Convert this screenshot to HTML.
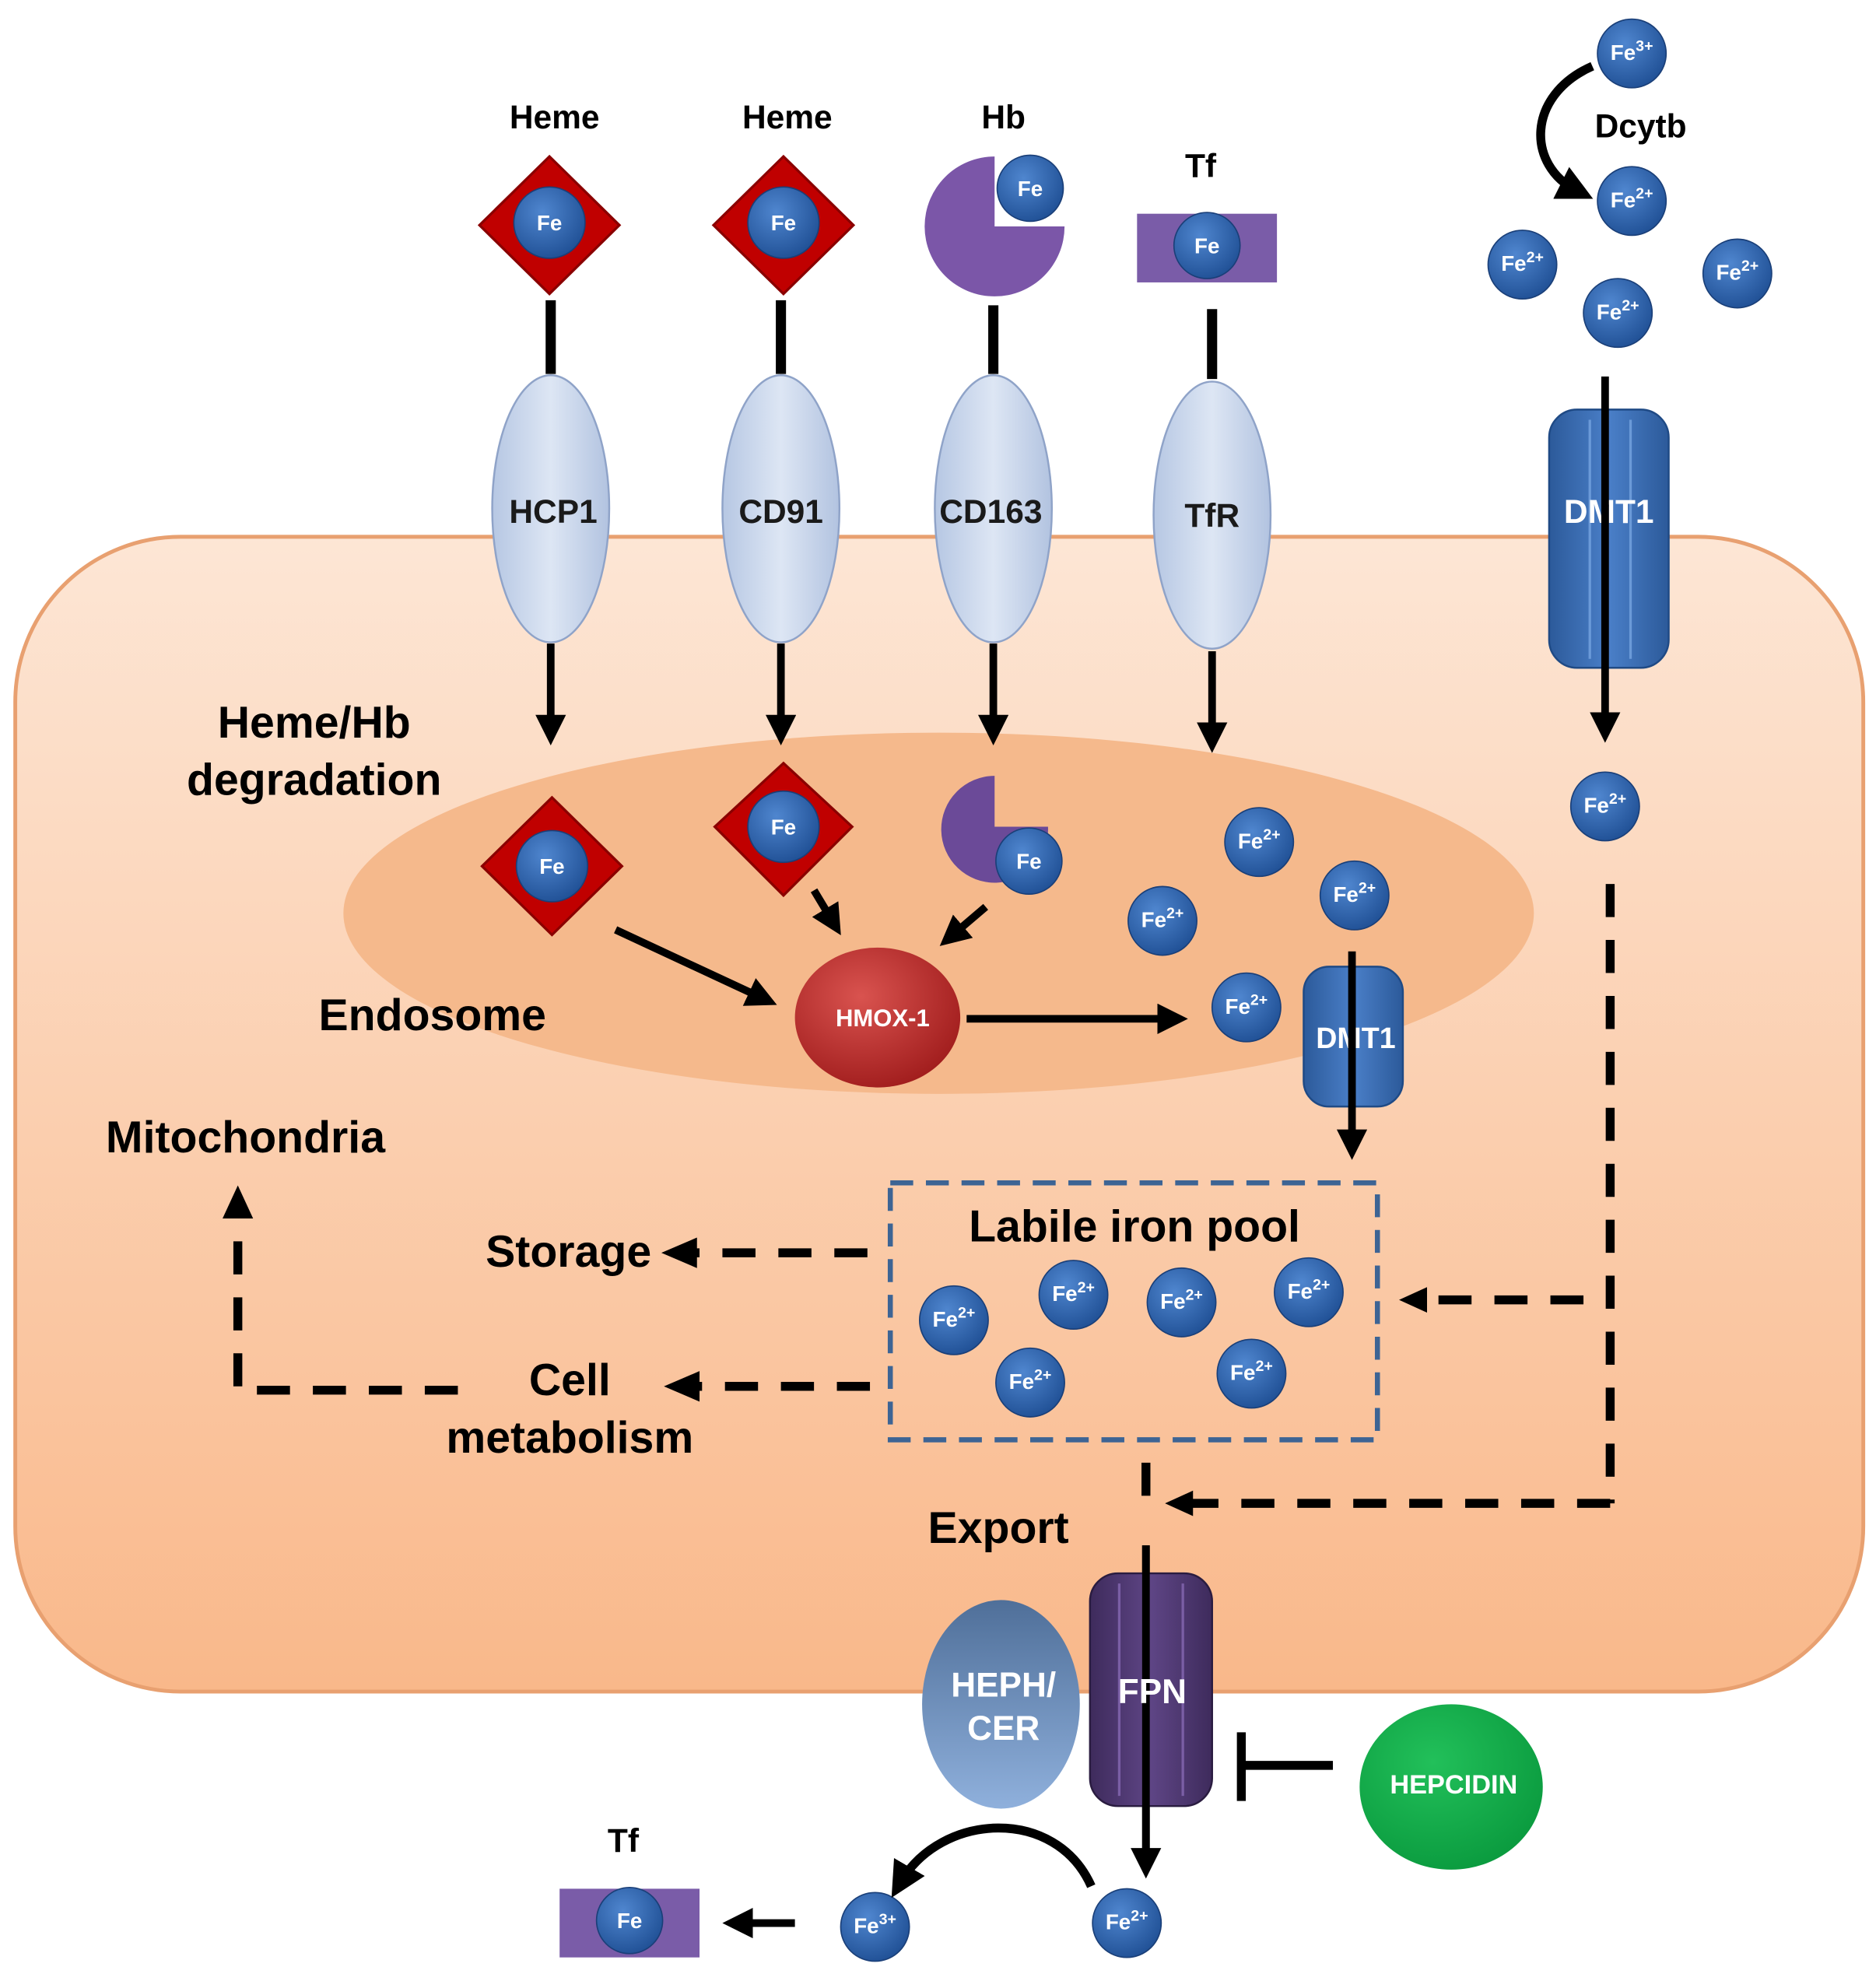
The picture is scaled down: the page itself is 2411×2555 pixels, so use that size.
<!DOCTYPE html>
<html><head><meta charset="utf-8"><style>html,body{margin:0;padding:0;background:#fff}svg{display:block}text{font-family:"Liberation Sans",Arial,sans-serif;font-weight:bold}</style></head>
<body>
<svg width="2411" height="2555" viewBox="0 0 1475 1563" xmlns="http://www.w3.org/2000/svg">
<defs>
<linearGradient id="cell" x1="0" y1="0" x2="0" y2="1"><stop offset="0" stop-color="#fde6d5"/><stop offset="1" stop-color="#f9b88a"/></linearGradient>
<radialGradient id="fe" cx="0.4" cy="0.35" r="0.7"><stop offset="0" stop-color="#4f86cf"/><stop offset="1" stop-color="#1f4f94"/></radialGradient>
<linearGradient id="rec" x1="0" y1="0" x2="1" y2="0"><stop offset="0" stop-color="#b6c7e3"/><stop offset="0.5" stop-color="#dde6f4"/><stop offset="1" stop-color="#b2c3e0"/></linearGradient>
<linearGradient id="dmt" x1="0" y1="0" x2="1" y2="0"><stop offset="0" stop-color="#2c5a9a"/><stop offset="0.5" stop-color="#4a7fc8"/><stop offset="1" stop-color="#2c5a9a"/></linearGradient>
<linearGradient id="fpn" x1="0" y1="0" x2="1" y2="0"><stop offset="0" stop-color="#3e2b5c"/><stop offset="0.5" stop-color="#5e4585"/><stop offset="1" stop-color="#3e2b5c"/></linearGradient>
<radialGradient id="hm" cx="0.4" cy="0.35" r="0.7"><stop offset="0" stop-color="#d9534f"/><stop offset="1" stop-color="#a01c1c"/></radialGradient>
<linearGradient id="heph" x1="0" y1="0" x2="0" y2="1"><stop offset="0" stop-color="#4f6f99"/><stop offset="1" stop-color="#8fb0dc"/></linearGradient>
<radialGradient id="hep" cx="0.4" cy="0.35" r="0.7"><stop offset="0" stop-color="#22c05a"/><stop offset="1" stop-color="#0a9a3e"/></radialGradient>
<marker id="ah" markerWidth="4" markerHeight="4" refX="2" refY="2" orient="auto" markerUnits="strokeWidth"><path d="M0,0 L4,2 L0,4 Z" fill="#000"/></marker>
</defs>
<rect x="12" y="422" width="1453" height="908" rx="130" fill="url(#cell)" stroke="#e8a070" stroke-width="3"/>
<ellipse cx="738" cy="718" rx="468" ry="142" fill="#f5b98c"/>

<!-- lines ligand-receptor -->
<g stroke="#000" stroke-width="8">
<line x1="433" y1="236" x2="433" y2="294"/><line x1="614" y1="236" x2="614" y2="294"/><line x1="781" y1="240" x2="781" y2="294"/><line x1="953" y1="243" x2="953" y2="298"/>
</g>
<!-- receptors -->
<g stroke="#8fa3c8" stroke-width="1.5" fill="url(#rec)">
<ellipse cx="433" cy="400" rx="46" ry="105"/><ellipse cx="614" cy="400" rx="46" ry="105"/><ellipse cx="781" cy="400" rx="46" ry="105"/><ellipse cx="953" cy="405" rx="46" ry="105"/>
</g>
<g font-size="26" text-anchor="middle" fill="#1a1a1a">
<text x="435" y="411">HCP1</text><text x="614" y="411">CD91</text><text x="779" y="411">CD163</text><text x="953" y="414">TfR</text>
</g>
<!-- top labels -->
<g font-size="26" text-anchor="middle" fill="#000">
<text x="436" y="101">Heme</text><text x="619" y="101">Heme</text><text x="789" y="101">Hb</text><text x="944" y="139">Tf</text><text x="1290" y="108">Dcytb</text>
</g>
<!-- diamonds -->
<g fill="#c00000" stroke="#8a0000" stroke-width="2">
<polygon points="432,123 487,177 432,231 377,177"/><polygon points="616,123 671,177 616,231 561,177"/>
<polygon points="434,627 489,681 434,735 379,681"/><polygon points="616,600 670,650 616,704 562,650"/>
</g>
<!-- Hb pie -->
<path d="M782,178 L782,123 A55,55 0 1,0 837,178 Z" fill="#7b56a8"/>
<path d="M782,650 L782,610 A42,42 0 1,0 824,650 Z" fill="#6b4a98"/>
<!-- Tf -->
<rect x="894" y="168" width="110" height="54" fill="#7a5ca8"/>
<rect x="440" y="1485" width="110" height="54" fill="#7a5ca8"/>
<!-- Fe circles -->
<g fill="url(#fe)" stroke="#1a3f78" stroke-width="1">
<circle cx="432" cy="175" r="28"/><circle cx="616" cy="175" r="28"/><circle cx="810" cy="148" r="26"/><circle cx="949" cy="193" r="26"/>
<circle cx="434" cy="681" r="28"/><circle cx="616" cy="650" r="28"/><circle cx="809" cy="677" r="26"/><circle cx="495" cy="1510" r="26"/>
<circle cx="1283" cy="42" r="27"/><circle cx="1283" cy="158" r="27"/><circle cx="1197" cy="208" r="27"/><circle cx="1272" cy="246" r="27"/><circle cx="1366" cy="215" r="27"/>
<circle cx="1262" cy="634" r="27"/><circle cx="990" cy="662" r="27"/><circle cx="914" cy="724" r="27"/><circle cx="1065" cy="704" r="27"/><circle cx="980" cy="792" r="27"/>
<circle cx="750" cy="1038" r="27"/><circle cx="844" cy="1018" r="27"/><circle cx="929" cy="1024" r="27"/><circle cx="1029" cy="1016" r="27"/><circle cx="810" cy="1087" r="27"/><circle cx="984" cy="1080" r="27"/>
<circle cx="688" cy="1515" r="27"/><circle cx="886" cy="1512" r="27"/>
</g>
<g font-size="17" fill="#fff" text-anchor="middle" font-weight="normal">
<text x="432" y="181">Fe</text><text x="616" y="181">Fe</text><text x="810" y="154">Fe</text><text x="949" y="199">Fe</text>
<text x="434" y="687">Fe</text><text x="616" y="656">Fe</text><text x="809" y="683">Fe</text><text x="495" y="1516">Fe</text>
</g>
<g font-size="17" fill="#fff" text-anchor="middle">
<text x="1283" y="47">Fe<tspan dy="-7" font-size="12">3+</tspan></text>
<text x="1283" y="163">Fe<tspan dy="-7" font-size="12">2+</tspan></text>
<text x="1197" y="213">Fe<tspan dy="-7" font-size="12">2+</tspan></text>
<text x="1272" y="251">Fe<tspan dy="-7" font-size="12">2+</tspan></text>
<text x="1366" y="220">Fe<tspan dy="-7" font-size="12">2+</tspan></text>
<text x="1262" y="639">Fe<tspan dy="-7" font-size="12">2+</tspan></text>
<text x="990" y="667">Fe<tspan dy="-7" font-size="12">2+</tspan></text>
<text x="914" y="729">Fe<tspan dy="-7" font-size="12">2+</tspan></text>
<text x="1065" y="709">Fe<tspan dy="-7" font-size="12">2+</tspan></text>
<text x="980" y="797">Fe<tspan dy="-7" font-size="12">2+</tspan></text>
<text x="750" y="1043">Fe<tspan dy="-7" font-size="12">2+</tspan></text>
<text x="844" y="1023">Fe<tspan dy="-7" font-size="12">2+</tspan></text>
<text x="929" y="1029">Fe<tspan dy="-7" font-size="12">2+</tspan></text>
<text x="1029" y="1021">Fe<tspan dy="-7" font-size="12">2+</tspan></text>
<text x="810" y="1092">Fe<tspan dy="-7" font-size="12">2+</tspan></text>
<text x="984" y="1085">Fe<tspan dy="-7" font-size="12">2+</tspan></text>
<text x="688" y="1520">Fe<tspan dy="-7" font-size="12">3+</tspan></text>
<text x="886" y="1517">Fe<tspan dy="-7" font-size="12">2+</tspan></text>
</g>
<!-- Dcytb curved arrow -->
<path d="M1252,52 C1200,75 1200,130 1240,150" fill="none" stroke="#000" stroke-width="7" marker-end="url(#ah)"/>
<!-- DMT1 top -->
<rect x="1218" y="322" width="94" height="203" rx="22" fill="url(#dmt)" stroke="#1f4a85" stroke-width="1.5"/>
<line x1="1250" y1="330" x2="1250" y2="518" stroke="#6b9ad8" stroke-width="2"/><line x1="1282" y1="330" x2="1282" y2="518" stroke="#6b9ad8" stroke-width="2"/>
<text x="1265" y="411" font-size="26" text-anchor="middle" fill="#fff">DMT1</text>
<!-- DMT1 endosome -->
<rect x="1025" y="760" width="78" height="110" rx="20" fill="url(#dmt)" stroke="#1f4a85" stroke-width="1.5"/>
<text x="1066" y="824" font-size="23" text-anchor="middle" fill="#fff">DMT1</text>
<!-- solid arrows -->
<g stroke="#000" stroke-width="6" fill="none" marker-end="url(#ah)">
<line x1="1262" y1="296" x2="1262" y2="572"/>
<line x1="433" y1="506" x2="433" y2="574"/><line x1="614" y1="506" x2="614" y2="574"/><line x1="781" y1="506" x2="781" y2="574"/><line x1="953" y1="512" x2="953" y2="580"/>
<line x1="484" y1="731" x2="600" y2="785"/><line x1="640" y1="700" x2="655" y2="725"/><line x1="775" y1="713" x2="748" y2="736"/>
<line x1="760" y1="801" x2="922" y2="801"/>
<line x1="1063" y1="748" x2="1063" y2="900"/>
<line x1="625" y1="1512" x2="580" y2="1512"/>
<line x1="901" y1="1215" x2="901" y2="1465"/>
</g>
<path d="M858,1483 C830,1420 740,1425 708,1480" fill="none" stroke="#000" stroke-width="7" marker-end="url(#ah)"/>
<!-- HMOX -->
<ellipse cx="690" cy="800" rx="65" ry="55" fill="url(#hm)"/>
<text x="694" y="807" font-size="19" text-anchor="middle" fill="#fff">HMOX-1</text>
<!-- LIP -->
<rect x="700" y="930" width="383" height="202" fill="none" stroke="#3d6494" stroke-width="4" stroke-dasharray="18,10"/>
<text x="892" y="976" font-size="35" text-anchor="middle" fill="#000">Labile iron pool</text>
<!-- dashed arrows -->
<g stroke="#000" stroke-width="7" fill="none" stroke-dasharray="26,18">
<line x1="1266" y1="695" x2="1266" y2="1182"/><line x1="1266" y1="1182" x2="935" y2="1182"/>
<line x1="1245" y1="1022" x2="1118" y2="1022"/>
<line x1="682" y1="985" x2="545" y2="985"/>
<line x1="684" y1="1090" x2="548" y2="1090"/>
<path d="M360,1093 L187,1093 L187,960"/>
<line x1="901" y1="1150" x2="901" y2="1190"/>
</g>
<g fill="#000">
<polygon points="548,973 520,985 548,997"/><polygon points="550,1078 522,1090 550,1102"/><polygon points="175,958 187,932 199,958"/>
<polygon points="1122,1012 1100,1022 1122,1032"/><polygon points="938,1172 916,1182 938,1192"/>
</g>
<!-- labels -->
<g font-size="35" fill="#000" text-anchor="middle">
<text x="247" y="580">Heme/Hb</text><text x="247" y="625">degradation</text>
<text x="340" y="810">Endosome</text><text x="193" y="906">Mitochondria</text>
<text x="447" y="996">Storage</text><text x="448" y="1097">Cell</text><text x="448" y="1142">metabolism</text>
<text x="785" y="1213">Export</text>
</g>
<!-- FPN -->
<rect x="857" y="1237" width="96" height="183" rx="22" fill="url(#fpn)" stroke="#2a1c40" stroke-width="1.5"/>
<line x1="880" y1="1245" x2="880" y2="1412" stroke="#7a5ea5" stroke-width="2"/><line x1="930" y1="1245" x2="930" y2="1412" stroke="#7a5ea5" stroke-width="2"/>
<line x1="901" y1="1215" x2="901" y2="1465" stroke="#000" stroke-width="6"/>
<text x="906" y="1339" font-size="27" text-anchor="middle" fill="#fff">FPN</text>
<ellipse cx="787" cy="1340" rx="62" ry="82" fill="url(#heph)"/>
<text x="789" y="1334" font-size="27" text-anchor="middle" fill="#fff">HEPH/</text><text x="789" y="1368" font-size="27" text-anchor="middle" fill="#fff">CER</text>
<!-- hepcidin -->
<line x1="976" y1="1388" x2="1048" y2="1388" stroke="#000" stroke-width="7"/><line x1="976" y1="1362" x2="976" y2="1416" stroke="#000" stroke-width="7"/>
<ellipse cx="1141" cy="1405" rx="72" ry="65" fill="url(#hep)"/>
<text x="1143" y="1410" font-size="21" text-anchor="middle" fill="#fff">HEPCIDIN</text>
<text x="490" y="1456" font-size="26" text-anchor="middle" fill="#000">Tf</text>
</svg>
</body></html>
